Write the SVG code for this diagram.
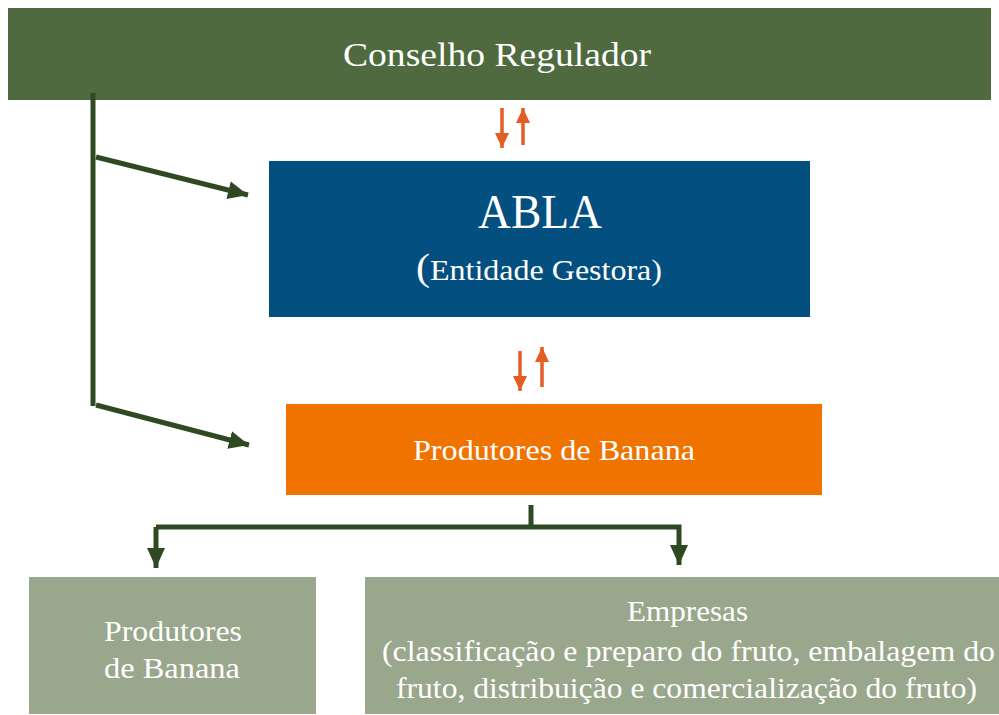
<svg xmlns="http://www.w3.org/2000/svg" width="999" height="715" viewBox="0 0 999 715">
<defs>
<style>
.t{font-family:"Liberation Serif","Times New Roman",serif;fill:#ffffff;text-anchor:middle}
.g{stroke:#2F4A22;stroke-width:5;fill:none}
.o{stroke:#E35D25;stroke-width:3.5;fill:none}
</style>
<marker id="ag" markerUnits="userSpaceOnUse" markerWidth="22" markerHeight="22" viewBox="0 0 22 22" refX="20" refY="11" orient="auto">
<path d="M0,2 L20,11 L0,20 Z" fill="#2F4A22"/>
</marker>
<marker id="ao" markerUnits="userSpaceOnUse" markerWidth="16" markerHeight="16" viewBox="0 0 16 16" refX="15" refY="8" orient="auto">
<path d="M0,1 L15,8 L0,15 Z" fill="#E35D25"/>
</marker>
</defs>
<rect width="999" height="715" fill="#ffffff"/>
<g id="conselho">
<rect x="8" y="8" width="983" height="92" fill="#4E6A3E"/>
<text class="t" x="497" y="66" font-size="34" textLength="308" lengthAdjust="spacingAndGlyphs">Conselho Regulador</text>
</g>
<g id="abla">
<rect x="269" y="161" width="541" height="156" fill="#034F80"/>
<text class="t" x="540" y="228" font-size="48" textLength="124" lengthAdjust="spacingAndGlyphs">ABLA</text>
<text class="t" x="539" y="280" font-size="29" textLength="246" lengthAdjust="spacingAndGlyphs"><tspan font-size="38">(</tspan>Entidade Gestora)</text>
</g>
<g id="produtores">
<rect x="286" y="404" width="536" height="91" fill="#F07300"/>
<text class="t" x="554" y="460" font-size="29" textLength="282" lengthAdjust="spacingAndGlyphs">Produtores de Banana</text>
</g>
<g id="produtores2">
<rect x="29" y="577" width="287" height="137" fill="#99A78C"/>
<text class="t" x="173" y="641" font-size="29" textLength="138" lengthAdjust="spacingAndGlyphs">Produtores</text>
<text class="t" x="172" y="678" font-size="29" textLength="136" lengthAdjust="spacingAndGlyphs">de Banana</text>
</g>
<g id="empresas">
<rect x="365" y="577" width="634" height="137" fill="#99A78C"/>
<text class="t" x="687.5" y="621" font-size="29" textLength="121" lengthAdjust="spacingAndGlyphs">Empresas</text>
<text class="t" x="688.5" y="661" font-size="29" textLength="613" lengthAdjust="spacingAndGlyphs">(classificação e preparo do fruto, embalagem do</text>
<text class="t" x="686.5" y="698" font-size="29" textLength="581" lengthAdjust="spacingAndGlyphs">fruto, distribuição e comercialização do fruto)</text>
</g>
<g id="connectors">
<polyline class="g" points="93,93 93,406"/>
<line class="g" x1="96" y1="157" x2="248" y2="195" marker-end="url(#ag)"/>
<line class="g" x1="96" y1="405" x2="249" y2="445" marker-end="url(#ag)"/>
<line class="g" x1="531" y1="505" x2="531" y2="528"/>
<polyline class="g" points="156,527 679,527 679,565" marker-end="url(#ag)"/>
<line class="g" x1="156" y1="527" x2="156" y2="568" marker-end="url(#ag)"/>
<line class="o" x1="502" y1="108" x2="502" y2="148" marker-end="url(#ao)"/>
<line class="o" x1="523" y1="145" x2="523" y2="108" marker-end="url(#ao)"/>
<line class="o" x1="520" y1="351" x2="520" y2="391" marker-end="url(#ao)"/>
<line class="o" x1="542" y1="387" x2="542" y2="347" marker-end="url(#ao)"/>
</g>
</svg>
